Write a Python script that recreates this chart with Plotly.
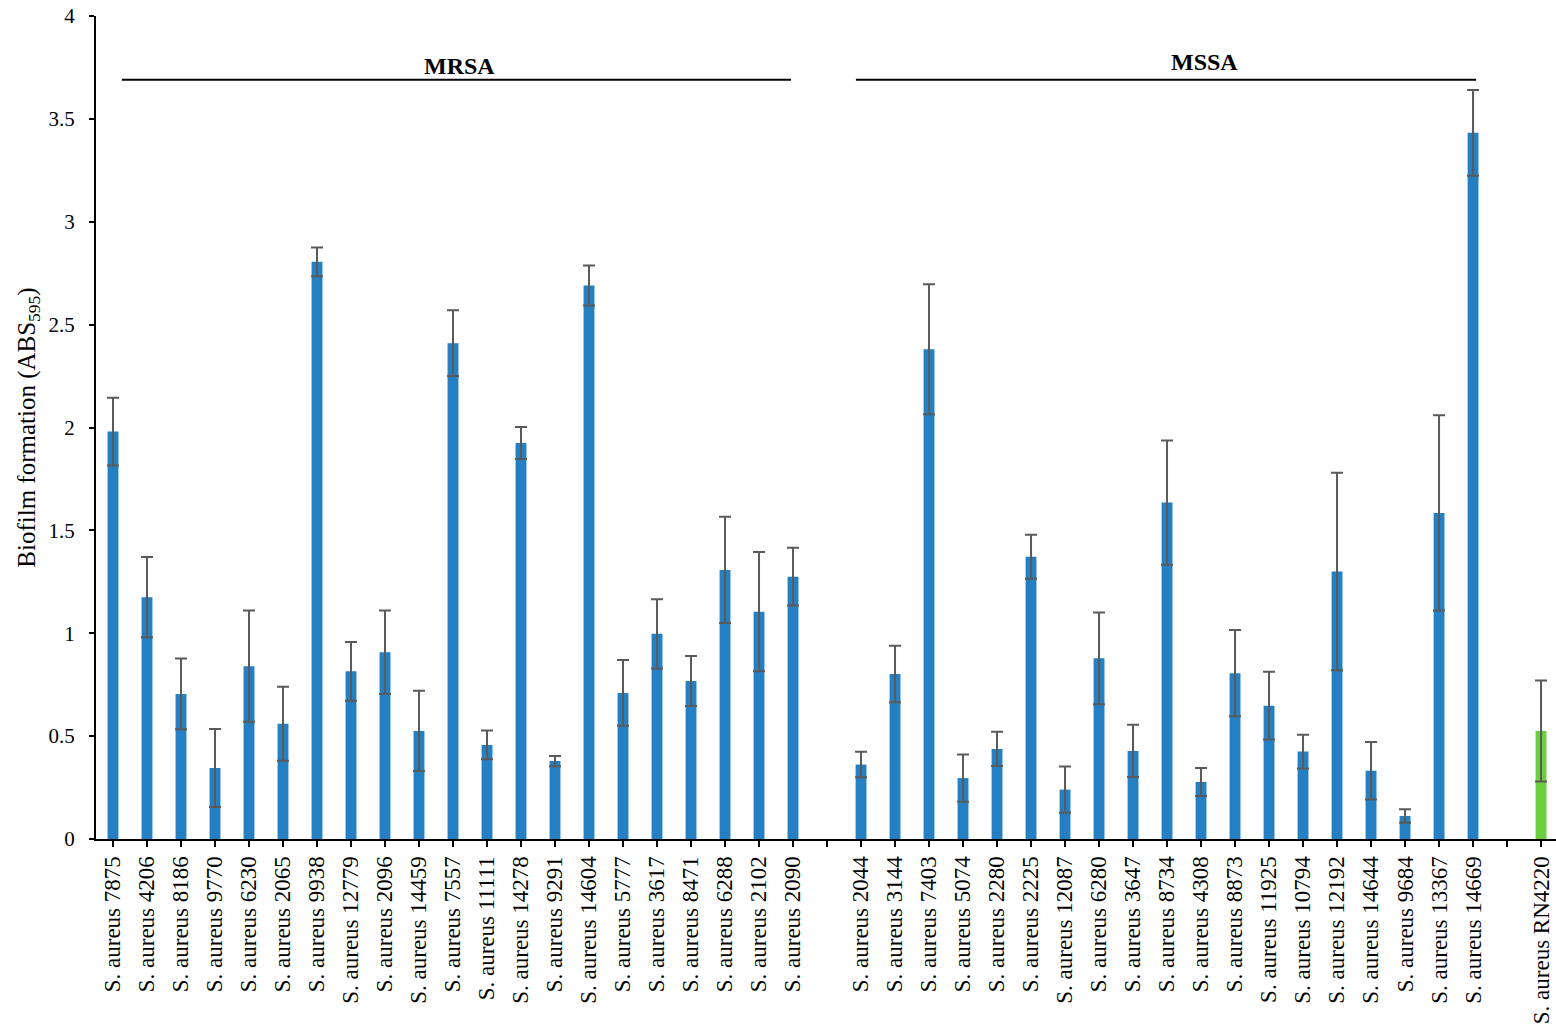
import plotly.graph_objects as go

mrsa_strains = ["7875", "4206", "8186", "9770", "6230", "2065", "9938", "12779", "2096", "14459",
                "7557", "11111", "14278", "9291", "14604", "5777", "3617", "8471", "6288", "2102", "2090"]
mrsa_mean = [1.98, 1.175, 0.705, 0.345, 0.84, 0.56, 2.805, 0.815, 0.908, 0.525,
             2.41, 0.457, 1.925, 0.379, 2.69, 0.71, 0.997, 0.768, 1.308, 1.105, 1.275]
mrsa_sd = [0.165, 0.195, 0.172, 0.19, 0.27, 0.18, 0.07, 0.143, 0.203, 0.195,
           0.16, 0.07, 0.078, 0.025, 0.097, 0.16, 0.168, 0.122, 0.258, 0.29, 0.14]

mssa_strains = ["2044", "3144", "7403", "5074", "2280", "2225", "12087", "6280", "3647", "8734",
                "4308", "8873", "11925", "10794", "12192", "14644", "9684", "13367", "14669"]
mssa_mean = [0.362, 0.802, 2.38, 0.296, 0.438, 1.372, 0.24, 0.878, 0.428, 1.635,
             0.277, 0.806, 0.648, 0.425, 1.3, 0.332, 0.112, 1.585, 3.432]
mssa_sd = [0.062, 0.137, 0.316, 0.115, 0.083, 0.107, 0.112, 0.223, 0.127, 0.302,
           0.068, 0.21, 0.165, 0.082, 0.48, 0.14, 0.033, 0.475, 0.208]

ref_strain = "RN4220"
ref_mean = 0.525
ref_sd = 0.245

BLUE = "#2480C2"
GREEN = "#6CCF3F"
ERR = "#5A5A5A"
FONT = "Liberation Serif"

labels = [f"S. aureus {s}" for s in mrsa_strains] + [" "] + \
         [f"S. aureus {s}" for s in mssa_strains] + [" "] + [f"S. aureus {ref_strain}"]
positions = list(range(len(labels)))

blue_y = mrsa_mean + [None] + mssa_mean
blue_err = mrsa_sd + [0] + mssa_sd
blue_x = positions[:len(blue_y)]

fig = go.Figure()
fig.add_trace(
    go.Bar(
        x=blue_x,
        y=blue_y,
        width=0.32,
        marker=dict(color=BLUE, line=dict(width=0)),
        error_y=dict(type="data", array=blue_err, color=ERR, thickness=2, width=6),
        showlegend=False,
    )
)
fig.add_trace(
    go.Bar(
        x=[positions[-1]],
        y=[ref_mean],
        width=0.32,
        marker=dict(color=GREEN, line=dict(width=0)),
        error_y=dict(type="data", array=[ref_sd], color=ERR, thickness=2, width=6),
        showlegend=False,
    )
)

# group brackets
mrsa_end = len(mrsa_strains) - 1
mssa_start = len(mrsa_strains) + 1
mssa_end = mssa_start + len(mssa_strains) - 1
fig.add_shape(type="line", xref="x", yref="y", x0=0.26, x1=mrsa_end - 0.06, y0=3.69, y1=3.69,
              line=dict(color="black", width=2))
fig.add_shape(type="line", xref="x", yref="y", x0=mssa_start - 0.15, x1=mssa_end + 0.09, y0=3.69, y1=3.69,
              line=dict(color="black", width=2))
fig.add_annotation(x=mrsa_end / 2 + 0.2, y=3.69, text="<b>MRSA</b>", showarrow=False,
                   yanchor="bottom", yshift=-1, font=dict(family=FONT, size=24, color="black"))
fig.add_annotation(x=mssa_start + 10.1, y=3.69, text="<b>MSSA</b>", showarrow=False,
                   yanchor="bottom", yshift=3, font=dict(family=FONT, size=24, color="black"))

fig.update_layout(
    width=1556,
    height=1025,
    margin=dict(l=96, r=0, t=16, b=186),
    plot_bgcolor="#FFFFFF",
    paper_bgcolor="#FFFFFF",
    barmode="overlay",
    font=dict(family=FONT, color="black", size=22),
    xaxis=dict(
        range=[-0.5, len(labels) - 0.56],
        tickmode="array",
        tickvals=positions,
        ticktext=labels,
        tickangle=-90,
        ticks="outside",
        ticklen=6,
        tickwidth=2,
        tickcolor="black",
        showline=True,
        linecolor="black",
        linewidth=2,
        showgrid=False,
        zeroline=False,
        tickfont=dict(family=FONT, size=23, color="black"),
    ),
    yaxis=dict(
        range=[0, 4],
        dtick=0.5,
        tickformat="~g",
        ticks="outside",
        ticklen=5,
        tickwidth=2,
        tickcolor="black",
        ticklabelstandoff=10,
        showline=True,
        linecolor="black",
        linewidth=2,
        showgrid=False,
        zeroline=False,
        tickfont=dict(family=FONT, size=21, color="black"),
        title=dict(text="Biofilm formation (ABS<sub>595</sub>)", font=dict(family=FONT, size=25),
                   standoff=6),
    ),
)

fig.write_html("out.html", config={"displayModeBar": False},
               post_script="document.body.style.margin='0';")
